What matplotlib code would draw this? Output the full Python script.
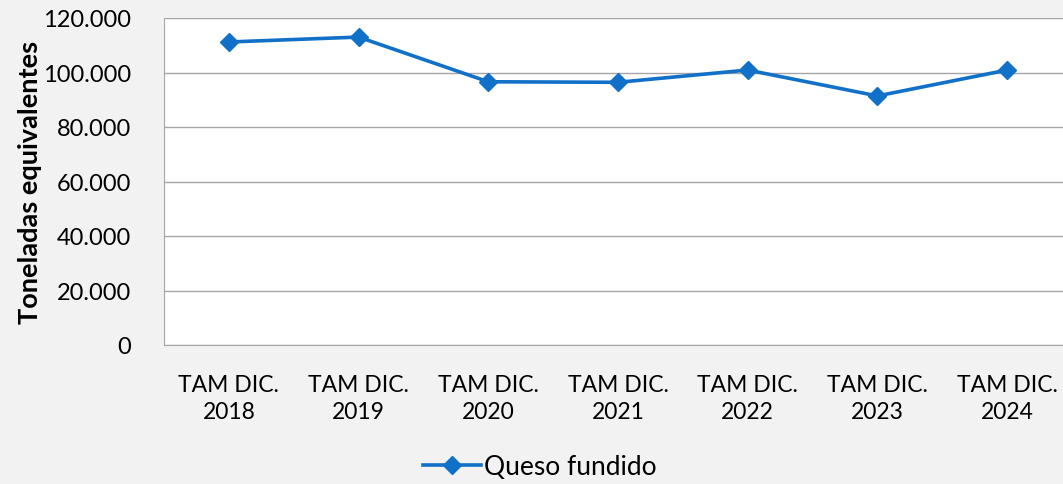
import matplotlib.pyplot as plt
from matplotlib.ticker import FuncFormatter

# data
categories = ['TAM DIC.\n2018', 'TAM DIC.\n2019', 'TAM DIC.\n2020', 'TAM DIC.\n2021',
              'TAM DIC.\n2022', 'TAM DIC.\n2023', 'TAM DIC.\n2024']
queso_fundido = [111200, 113000, 96600, 96400, 100900, 91400, 100900]
y_ticks = [0, 20000, 40000, 60000, 80000, 100000, 120000]

plt.rcParams['font.family'] = ['Lato', 'DejaVu Sans']

bg = '#F2F2F2'
blue = '#1170C8'
grid_col = '#A6A6A6'

fig = plt.figure(figsize=(10.63, 4.85), dpi=100, facecolor=bg)
ax = fig.add_axes([164 / 1063, 139 / 485, 908 / 1063, 327 / 485])
ax.set_facecolor('white')

x = list(range(len(categories)))
ax.plot(x, queso_fundido, color=blue, lw=2.6, marker='D', markersize=9,
        label='Queso fundido', zorder=3)

ax.set_xlim(-0.5, len(categories) - 0.5)
ax.set_ylim(0, 120000)
ax.set_yticks(y_ticks)
ax.yaxis.set_major_formatter(FuncFormatter(lambda v, p: '0' if v == 0 else f'{int(v):,}'.replace(',', '.')))
ax.set_xticks(x)
ax.set_xticklabels(categories, fontsize=16.5, linespacing=1.35)
ax.tick_params(axis='y', labelsize=17, length=0, pad=24)
ax.tick_params(axis='x', length=0, pad=21)

ax.grid(axis='y', color=grid_col, lw=1)
ax.set_axisbelow(True)
for s in ['top', 'right']:
    ax.spines[s].set_visible(False)
ax.spines['left'].set_color(grid_col)
ax.spines['bottom'].set_color(grid_col)

ax.set_ylabel('Toneladas equivalentes', fontsize=19.5, fontweight='bold')
ax.yaxis.set_label_coords(-122 / 908, 0.5)

fig.legend(loc='center', bbox_to_anchor=(540 / 1063, 1 - 468 / 485), frameon=False,
           fontsize=19, handlelength=2.2, handletextpad=0.1)

fig.savefig('out.png', dpi=100, facecolor=bg)
